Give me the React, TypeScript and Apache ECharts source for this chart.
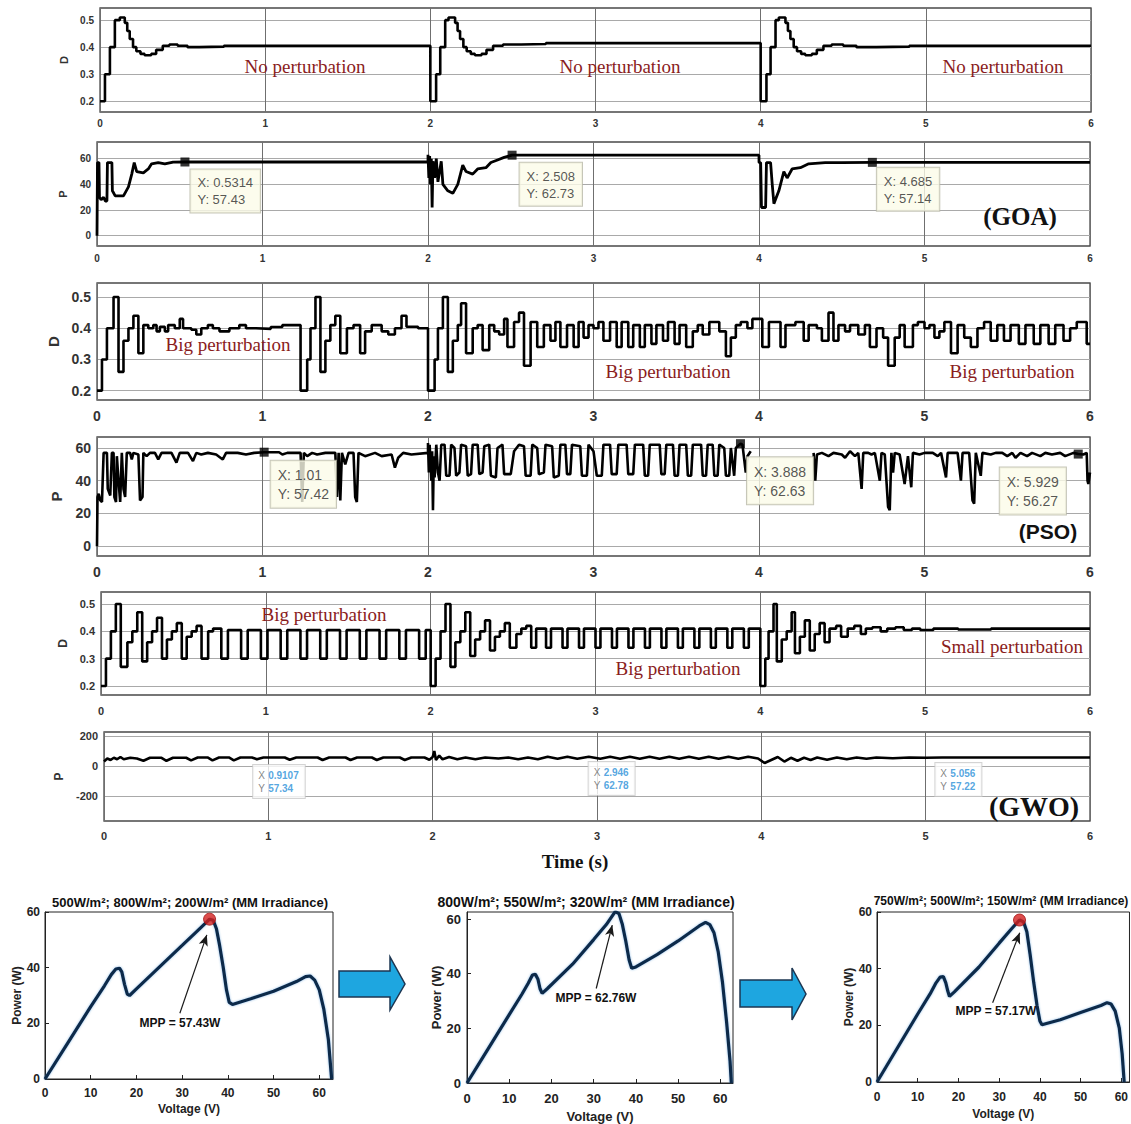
import React, { useEffect, useRef } from "react";
import * as echarts from "echarts";

// ---------- tick values ----------
const D_TICKS = [0.2, 0.3, 0.4, 0.5];
const P_TICKS = [0, 20, 40, 60];
const GWO_P_TICKS = [-200, 0, 200];
const PV_V_TICKS = [0, 10, 20, 30, 40, 50, 60];
const PV_P_TICKS = [0, 20, 40, 60];

// ---------- GOA ----------
const goaD = [
  [0, 0.2], [0.03, 0.3], [0.06, 0.4], [0.09, 0.5], [0.12, 0.51], [0.15, 0.49], [0.165, 0.46], [0.18, 0.43], [0.2, 0.4],
  [0.22, 0.385], [0.245, 0.375], [0.27, 0.37], [0.31, 0.375], [0.34, 0.39], [0.38, 0.405], [0.42, 0.41], [0.47, 0.405],
  [0.53, 0.4], [0.6, 0.402], [0.75, 0.405],
  [2.0, 0.2], [2.035, 0.3], [2.06, 0.4], [2.09, 0.5], [2.11, 0.51], [2.15, 0.49], [2.165, 0.46], [2.18, 0.43], [2.2, 0.4],
  [2.22, 0.385], [2.245, 0.375], [2.27, 0.37], [2.31, 0.375], [2.34, 0.39], [2.38, 0.405], [2.44, 0.41], [2.55, 0.412], [2.7, 0.415],
  [4.0, 0.2], [4.035, 0.3], [4.06, 0.4], [4.09, 0.5], [4.11, 0.51], [4.15, 0.49], [4.165, 0.46], [4.18, 0.43], [4.2, 0.4],
  [4.22, 0.385], [4.245, 0.375], [4.27, 0.37], [4.31, 0.375], [4.34, 0.39], [4.38, 0.405], [4.43, 0.41], [4.5, 0.405],
  [4.58, 0.4], [4.7, 0.402], [4.9, 0.405], [6, 0.405],
];
const goaP = [
  [0, 0], [0.003, 57], [0.012, 57], [0.015, 30], [0.025, 28], [0.04, 30], [0.05, 27], [0.06, 27], [0.063, 57], [0.09, 57],
  [0.093, 35], [0.11, 31], [0.16, 31], [0.19, 38], [0.21, 48], [0.225, 57], [0.24, 50], [0.28, 49], [0.31, 52], [0.33, 56],
  [0.37, 57], [0.41, 56], [0.46, 57.4], [0.5314, 57.43], [2.0, 57.43],
  [2.0, 63], [2.005, 45], [2.01, 62], [2.015, 40], [2.02, 60], [2.025, 22], [2.03, 58], [2.04, 45], [2.05, 60], [2.06, 42],
  [2.08, 58], [2.09, 40], [2.12, 35], [2.15, 33], [2.18, 40], [2.21, 55], [2.23, 50], [2.27, 48], [2.3, 52], [2.35, 53],
  [2.38, 57], [2.42, 59], [2.46, 61], [2.508, 62.73], [4.0, 62.73],
  [4.0, 57], [4.01, 57], [4.015, 22], [4.04, 22], [4.045, 57], [4.07, 57], [4.08, 40], [4.09, 25], [4.12, 35], [4.15, 50],
  [4.17, 45], [4.2, 52], [4.25, 53], [4.3, 56], [4.4, 57], [4.5, 57], [4.685, 57.14], [6, 57.14],
];
const goaTips = [[0.5314, 57.43], [2.508, 62.73], [4.685, 57.14]];

// ---------- PSO ----------
const psoD = [
  [0, 0.2], [0.03, 0.3], [0.06, 0.4], [0.1, 0.5], [0.13, 0.26], [0.16, 0.36], [0.19, 0.4], [0.22, 0.44], [0.25, 0.32],
  [0.28, 0.41], [0.31, 0.4], [0.34, 0.41], [0.36, 0.39], [0.38, 0.405], [0.41, 0.39], [0.43, 0.41], [0.47, 0.4], [0.5, 0.43],
  [0.52, 0.4], [0.57, 0.395], [0.6, 0.38], [0.63, 0.4], [0.67, 0.41], [0.7, 0.4], [0.74, 0.39], [0.8, 0.4], [0.86, 0.41],
  [0.9, 0.4], [0.96, 0.398], [1.05, 0.404], [1.12, 0.41],
  [1.23, 0.2], [1.27, 0.3], [1.29, 0.4], [1.32, 0.5], [1.35, 0.26], [1.38, 0.36], [1.41, 0.41], [1.44, 0.44], [1.47, 0.32],
  [1.51, 0.4], [1.55, 0.41], [1.59, 0.32], [1.62, 0.39], [1.66, 0.41], [1.72, 0.39], [1.76, 0.38], [1.8, 0.4], [1.84, 0.44],
  [1.87, 0.405], [1.94, 0.4],
  [2.0, 0.2], [2.04, 0.3], [2.06, 0.4], [2.09, 0.5], [2.12, 0.26], [2.15, 0.36], [2.18, 0.41], [2.2, 0.48], [2.23, 0.32],
  [2.27, 0.4], [2.3, 0.41], [2.33, 0.33], [2.37, 0.41], [2.4, 0.39], [2.43, 0.38], [2.46, 0.43], [2.48, 0.34], [2.52, 0.42],
  [2.55, 0.45], [2.58, 0.28], [2.62, 0.42], [2.66, 0.34], [2.7, 0.41], [2.74, 0.36], [2.77, 0.42], [2.8, 0.34], [2.84, 0.41],
  [2.88, 0.34], [2.91, 0.42], [2.94, 0.37], [2.97, 0.41], [3.0, 0.4], [3.03, 0.42], [3.06, 0.36], [3.1, 0.42], [3.14, 0.34],
  [3.17, 0.42], [3.21, 0.34], [3.24, 0.41], [3.28, 0.34], [3.31, 0.41], [3.35, 0.35], [3.38, 0.41], [3.42, 0.36], [3.45, 0.42],
  [3.49, 0.35], [3.52, 0.41], [3.56, 0.34], [3.6, 0.39], [3.63, 0.41], [3.66, 0.38], [3.7, 0.42], [3.76, 0.39], [3.8, 0.31],
  [3.83, 0.37], [3.86, 0.41], [3.89, 0.42], [3.93, 0.4], [3.96, 0.43],
  [4.02, 0.34], [4.06, 0.42], [4.13, 0.34], [4.16, 0.41], [4.22, 0.42], [4.27, 0.36], [4.3, 0.41], [4.35, 0.4], [4.38, 0.36],
  [4.42, 0.45], [4.45, 0.36], [4.48, 0.41], [4.52, 0.39], [4.55, 0.41], [4.6, 0.38], [4.64, 0.41], [4.67, 0.34], [4.71, 0.4],
  [4.75, 0.37], [4.78, 0.28], [4.82, 0.37], [4.85, 0.41], [4.88, 0.34], [4.93, 0.41], [4.96, 0.42],
  [5.0, 0.4], [5.03, 0.41], [5.06, 0.37], [5.09, 0.39], [5.12, 0.42], [5.16, 0.32], [5.2, 0.41], [5.24, 0.37], [5.28, 0.34],
  [5.32, 0.4], [5.36, 0.42], [5.4, 0.36], [5.44, 0.41], [5.48, 0.36], [5.52, 0.41], [5.57, 0.35], [5.61, 0.41], [5.66, 0.35],
  [5.7, 0.41], [5.75, 0.35], [5.79, 0.41], [5.84, 0.36], [5.88, 0.4], [5.92, 0.42], [5.98, 0.35], [6, 0.35],
];
const psoP = [
  [0, 0], [0.003, 30], [0.01, 32], [0.02, 28], [0.03, 27], [0.04, 57], [0.06, 57], [0.065, 35], [0.08, 31], [0.09, 57],
  [0.1, 57], [0.105, 30], [0.115, 27], [0.12, 55], [0.13, 40], [0.14, 27], [0.15, 57], [0.16, 35], [0.17, 30], [0.18, 57],
  [0.2, 57], [0.21, 53], [0.22, 57], [0.25, 56], [0.26, 28], [0.275, 30], [0.28, 57], [0.3, 55], [0.32, 57], [0.35, 57],
  [0.37, 53], [0.39, 57], [0.45, 57], [0.48, 51], [0.5, 57], [0.55, 57], [0.58, 52], [0.6, 57], [0.63, 56], [0.67, 57],
  [0.72, 56], [0.76, 53], [0.78, 57], [0.85, 57], [0.9, 56], [0.95, 57], [1.01, 57.42], [1.1, 57.4], [1.12, 56], [1.15, 57],
  [1.23, 57], [1.24, 27], [1.25, 57], [1.27, 55], [1.3, 57], [1.33, 56], [1.38, 57], [1.44, 57], [1.45, 30], [1.46, 57],
  [1.47, 28], [1.48, 57], [1.5, 50], [1.52, 57], [1.55, 57], [1.56, 30], [1.57, 27], [1.58, 57], [1.62, 55], [1.68, 57],
  [1.72, 55], [1.78, 56], [1.8, 48], [1.82, 54], [1.85, 57], [1.9, 56], [2.0, 57],
  [2.0, 63], [2.005, 45], [2.01, 62], [2.02, 40], [2.025, 58], [2.03, 22], [2.035, 55], [2.04, 42], [2.05, 62], [2.06, 45],
  [2.07, 40], [2.08, 62], [2.1, 62], [2.11, 43], [2.13, 43], [2.14, 62], [2.16, 60], [2.17, 43], [2.19, 45], [2.2, 62],
  [2.23, 61], [2.24, 43], [2.26, 44], [2.27, 62], [2.3, 62], [2.31, 44], [2.33, 45], [2.34, 61], [2.37, 62], [2.38, 43],
  [2.41, 42], [2.42, 60], [2.45, 62], [2.46, 44], [2.5, 44], [2.52, 58], [2.55, 62], [2.58, 61], [2.59, 43], [2.62, 43],
  [2.63, 62], [2.66, 60], [2.67, 44], [2.7, 45], [2.71, 62], [2.75, 61], [2.76, 42], [2.79, 43], [2.8, 62], [2.83, 62],
  [2.84, 44], [2.86, 44], [2.87, 62], [2.92, 61], [2.93, 43], [2.96, 43], [2.97, 62], [3.0, 58], [3.02, 43], [3.05, 43],
  [3.06, 62], [3.1, 62], [3.11, 44], [3.14, 44], [3.15, 62], [3.2, 62], [3.21, 44], [3.24, 44], [3.25, 62], [3.3, 62],
  [3.31, 43], [3.33, 43], [3.34, 62], [3.4, 62], [3.41, 44], [3.43, 44], [3.44, 62], [3.48, 62], [3.49, 43], [3.51, 43],
  [3.52, 62], [3.56, 62], [3.57, 43], [3.59, 43], [3.6, 62], [3.65, 62], [3.66, 43], [3.68, 43], [3.69, 62], [3.72, 62],
  [3.73, 43], [3.75, 43], [3.76, 62], [3.79, 60], [3.8, 43], [3.82, 43], [3.83, 60], [3.85, 43], [3.86, 60], [3.888, 62.63],
  [3.9, 62], [3.92, 45], [3.93, 55], [3.95, 58], [3.97, null],
  [4.33, 57], [4.34, 40], [4.35, 56], [4.38, 57], [4.42, 55], [4.45, 57], [4.5, 56], [4.52, 54], [4.55, 58], [4.58, 55],
  [4.6, 57], [4.62, 35], [4.63, 57], [4.66, 57], [4.68, 56], [4.7, 57], [4.73, 40], [4.74, 57], [4.76, 56], [4.78, 24],
  [4.79, 22], [4.8, 57], [4.81, 45], [4.82, 57], [4.85, 56], [4.88, 38], [4.9, 55], [4.92, 36], [4.93, 57], [4.97, 56],
  [5.0, 57], [5.05, 57], [5.08, 55], [5.1, 57], [5.13, 42], [5.14, 57], [5.2, 57], [5.22, 40], [5.23, 57], [5.27, 57],
  [5.29, 28], [5.3, 26], [5.31, 57], [5.34, 43], [5.35, 57], [5.4, 56], [5.43, 57], [5.47, 57], [5.5, 55], [5.53, 57],
  [5.55, 54], [5.58, 57], [5.62, 55], [5.65, 57], [5.7, 55], [5.73, 57], [5.77, 56], [5.82, 57], [5.85, 55], [5.9, 57],
  [5.929, 56.27], [5.96, 56], [5.98, 57], [5.985, 40], [5.99, 38], [6, 45],
];
const psoTips = [[1.01, 57.42], [3.888, 62.63], [5.929, 56.27]];

// ---------- GWO ----------
const gwoD = [
  [0, 0.2], [0.03, 0.3], [0.06, 0.4], [0.09, 0.5], [0.12, 0.27], [0.16, 0.36], [0.19, 0.4], [0.22, 0.47], [0.25, 0.29],
  [0.28, 0.36], [0.31, 0.4], [0.34, 0.45], [0.37, 0.3], [0.4, 0.37], [0.43, 0.4], [0.46, 0.43], [0.49, 0.3], [0.52, 0.38],
  [0.55, 0.4], [0.58, 0.42], [0.61, 0.3], [0.65, 0.4], [0.68, 0.41], [0.73, 0.3], [0.77, 0.405], [0.85, 0.3], [0.89, 0.405],
  [0.97, 0.3], [1.01, 0.405], [1.09, 0.3], [1.13, 0.405], [1.21, 0.3], [1.25, 0.405], [1.33, 0.3], [1.37, 0.405], [1.45, 0.3],
  [1.49, 0.405], [1.57, 0.3], [1.61, 0.405], [1.69, 0.3], [1.73, 0.405], [1.81, 0.3], [1.85, 0.405], [1.93, 0.3], [1.97, 0.405],
  [2.0, 0.2], [2.03, 0.3], [2.06, 0.4], [2.09, 0.5], [2.12, 0.27], [2.15, 0.36], [2.18, 0.4], [2.21, 0.47], [2.24, 0.31],
  [2.27, 0.37], [2.3, 0.4], [2.33, 0.44], [2.36, 0.33], [2.39, 0.38], [2.42, 0.4], [2.45, 0.43], [2.48, 0.34], [2.52, 0.39],
  [2.55, 0.41], [2.58, 0.42], [2.61, 0.34], [2.64, 0.41], [2.7, 0.34], [2.73, 0.41], [2.8, 0.34], [2.83, 0.41], [2.9, 0.34],
  [2.93, 0.41], [3.0, 0.34], [3.03, 0.41], [3.1, 0.34], [3.13, 0.41], [3.2, 0.34], [3.23, 0.41], [3.3, 0.34], [3.33, 0.41],
  [3.4, 0.34], [3.43, 0.41], [3.5, 0.34], [3.53, 0.41], [3.6, 0.34], [3.63, 0.41], [3.7, 0.34], [3.73, 0.41], [3.8, 0.34],
  [3.83, 0.41], [3.9, 0.34], [3.93, 0.41],
  [4.0, 0.2], [4.03, 0.3], [4.05, 0.4], [4.08, 0.5], [4.1, 0.29], [4.13, 0.37], [4.16, 0.4], [4.19, 0.47], [4.21, 0.32],
  [4.24, 0.38], [4.27, 0.44], [4.3, 0.33], [4.33, 0.39], [4.36, 0.43], [4.39, 0.36], [4.42, 0.41], [4.46, 0.42], [4.49, 0.38],
  [4.53, 0.41], [4.57, 0.42], [4.61, 0.39], [4.64, 0.41], [4.68, 0.415], [4.73, 0.4], [4.77, 0.41], [4.82, 0.415],
  [4.87, 0.405], [4.92, 0.41], [4.97, 0.405], [5.05, 0.41], [5.2, 0.407], [5.4, 0.41], [6, 0.41],
];
const gwoP = [
  [0, 30], [0.02, 50], [0.04, 40], [0.06, 55], [0.08, 45], [0.1, 60], [0.12, 45], [0.16, 55], [0.2, 50], [0.24, 35],
  [0.28, 55], [0.35, 55], [0.38, 35], [0.42, 55], [0.5, 55], [0.53, 38], [0.57, 57], [0.63, 57], [0.66, 38], [0.7, 57],
  [0.76, 57], [0.79, 38], [0.83, 57], [0.9, 57], [0.93, 45], [0.97, 57], [1.1, 57], [1.13, 42], [1.17, 57], [1.3, 57],
  [1.33, 40], [1.37, 57], [1.47, 57], [1.5, 40], [1.54, 57], [1.63, 57], [1.66, 40], [1.7, 57], [1.8, 57], [1.83, 40],
  [1.87, 57], [1.95, 57], [1.98, 42], [2.0, 60], [2.01, 100], [2.02, 40], [2.04, 70], [2.06, 45], [2.1, 60], [2.15, 45],
  [2.2, 57], [2.26, 45], [2.32, 57], [2.4, 50], [2.46, 57], [2.52, 45], [2.58, 57], [2.64, 45], [2.7, 62], [2.76, 48],
  [2.82, 62], [2.88, 48], [2.95, 62], [3.02, 48], [3.08, 62], [3.14, 48], [3.2, 62], [3.26, 48], [3.32, 62], [3.38, 48],
  [3.44, 62], [3.5, 48], [3.56, 62], [3.62, 48], [3.68, 62], [3.74, 48], [3.8, 62], [3.86, 48], [3.92, 62], [3.98, 50],
  [4.02, 20], [4.06, 40], [4.1, 60], [4.14, 30], [4.18, 55], [4.22, 35], [4.26, 55], [4.3, 40], [4.34, 57], [4.4, 42],
  [4.46, 57], [4.52, 45], [4.58, 57], [4.64, 48], [4.7, 57], [4.8, 52], [4.9, 57], [5.0, 55], [5.1, 57], [6, 57.2],
];
const gwoTips = [[0.9107, 57.34], [2.946, 62.78], [5.056, 57.22]];

// ---------- P-V curves ----------
const pv1 = [
  [0, 0], [5, 13], [10, 26], [13, 33.5], [14.5, 37.5], [15.5, 39.5], [16.3, 39.8], [16.8, 38.5], [17.4, 34], [18, 30.5],
  [18.5, 30], [20, 32.4], [25, 40.2], [30, 48], [33, 52.7], [35, 55.8], [36, 57.43], [36.8, 57], [37.5, 54], [38.2, 48],
  [39, 40], [39.7, 32], [40.3, 27.5], [41, 26.8], [45, 28.8], [50, 31.5], [55, 35], [57, 36.8], [58, 37], [59, 35.5],
  [60, 32], [61, 25], [62, 14], [62.7, 0],
];
const pv2 = [
  [0, 0], [5, 12.5], [10, 25], [13, 32.5], [14.5, 36.5], [15.5, 39.5], [16.2, 39.8], [16.8, 38], [17.3, 34.5], [17.8, 32.8],
  [19, 34.5], [25, 43.5], [30, 52.5], [33, 58], [35.1, 62.76], [36, 62], [36.8, 58], [37.6, 52], [38.4, 45], [39, 42],
  [40, 42.5], [45, 47], [50, 52], [55, 57.5], [56.5, 58.8], [57.5, 58], [58.5, 55], [59.5, 48], [60.5, 37], [61.5, 22],
  [62.3, 8], [62.6, 0],
];
const pv3 = [
  [0, 0], [5, 12], [10, 24], [13, 31], [14.5, 35], [15.5, 37], [16.3, 37.2], [16.9, 35], [17.4, 32], [17.8, 30.2],
  [19, 31.8], [25, 40.5], [30, 49], [33, 54], [35, 57.17], [36, 56.5], [36.8, 53], [37.6, 45], [38.5, 35], [39.3, 27],
  [40, 21.5], [40.5, 20.2], [45, 22], [50, 24.5], [55, 27], [56.5, 28], [57.5, 27.5], [58.5, 25], [59.5, 19], [60.2, 10],
  [60.7, 0],
];
const pvCurves = [pv1, pv2, pv3];
const mppPoints = [[36, 57.43], [35.1, 62.76], [35, 57.17]];
const mppLabels = ["MPP = 57.43W", "MPP = 62.76W", "MPP = 57.17W"];
const pvTitles = [
  "500W/m²; 800W/m²; 200W/m² (MM Irradiance)",
  "800W/m²; 550W/m²; 320W/m² (MM Irradiance)",
  "750W/m²; 500W/m²; 150W/m² (MM Irradiance)",
];
// annotation arrow ends (data units: V, W)
const mppArrows = [
  [[29.5, 23.6], [35.4, 51.8]],
  [[30.6, 34.6], [34.4, 57.8]],
  [[28.4, 28.0], [35.05, 52.7]],
];

const SERIF = "'Liberation Serif','Times New Roman',serif";
const SANS = "'Liberation Sans',Arial,Helvetica,sans-serif";
const RED_TXT = "#8a1c1c";

function buildOption() {
  const timePanels = [
    { g: [100, 8, 991, 104], y: [0.16, 0.545], ticks: D_TICKS, fs: 10, xm: 6, ym: 6, name: "D", ng: 30 },
    { g: [97, 142, 993, 104], y: [-8, 73], ticks: P_TICKS, fs: 10, xm: 7, ym: 6, name: "P", ng: 28 },
    { g: [97, 283, 993, 117], y: [0.17, 0.545], ticks: D_TICKS, fs: 14, xm: 9, ym: 6, name: "D", ng: 33 },
    { g: [97, 437, 993, 119], y: [-6, 66.7], ticks: P_TICKS, fs: 14, xm: 9, ym: 6, name: "P", ng: 33 },
    { g: [101, 592, 989, 103], y: [0.167, 0.544], ticks: D_TICKS, fs: 11, xm: 10, ym: 6, name: "D", ng: 27 },
    { g: [104, 732, 986, 89], y: [-367, 227], ticks: GWO_P_TICKS, fs: 11, xm: 9, ym: 6, name: "P", ng: 29 },
  ];
  const pvPanels = [
    { g: [45, 912, 288, 167], x: [0, 63], y: [0, 60], fs: 12, xm: 8, ym: 5, xng: 24, yng: 22 },
    { g: [467, 912, 266, 171], x: [0, 63], y: [0, 62.6], fs: 13, xm: 9, ym: 6, xng: 27, yng: 24 },
    { g: [877, 912, 253, 170], x: [0, 62], y: [0, 60], fs: 12, xm: 9, ym: 5, xng: 26, yng: 16 },
  ];

  const grid: any[] = [];
  const xAxis: any[] = [];
  const yAxis: any[] = [];

  timePanels.forEach((p, i) => {
    grid.push({
      left: p.g[0], top: p.g[1], width: p.g[2], height: p.g[3],
      show: true, borderColor: "#4a4a4a", borderWidth: 1.3, backgroundColor: "#fff",
    });
    xAxis.push({
      gridIndex: i, type: "value", min: 0, max: 6, interval: 1,
      axisLine: { show: false }, axisTick: { show: false },
      splitLine: { show: true, lineStyle: { color: "#6f6f6f", width: 1 } },
      axisLabel: { fontSize: p.fs, fontWeight: "bold", color: "#333", margin: p.xm, fontFamily: SANS },
    });
    yAxis.push({
      gridIndex: i, type: "value", min: p.y[0], max: p.y[1],
      axisLine: { show: false },
      axisTick: { show: false, customValues: p.ticks },
      splitLine: { show: true, lineStyle: { color: "#a9a9a9", width: 1 } },
      axisLabel: { customValues: p.ticks, fontSize: p.fs, fontWeight: "bold", color: "#333", margin: p.ym, fontFamily: SANS },
      name: p.name, nameLocation: "middle", nameGap: p.ng, nameRotate: 90,
      nameTextStyle: { fontSize: p.fs + 1, fontWeight: "bold", color: "#333", fontFamily: SANS },
    });
  });

  pvPanels.forEach((p, k) => {
    const i = 6 + k;
    grid.push({
      left: p.g[0], top: p.g[1], width: p.g[2], height: p.g[3],
      show: true, borderColor: "#222", borderWidth: 1, backgroundColor: "#fff",
    });
    xAxis.push({
      gridIndex: i, type: "value", min: p.x[0], max: p.x[1],
      axisLine: { show: true, lineStyle: { color: "#222" } },
      axisTick: { show: true, inside: true, length: 4, customValues: PV_V_TICKS, lineStyle: { color: "#222" } },
      splitLine: { show: false },
      axisLabel: { customValues: PV_V_TICKS, fontSize: p.fs, fontWeight: "bold", color: "#222", margin: p.xm, fontFamily: SANS },
      name: "Voltage (V)", nameLocation: "middle", nameGap: p.xng,
      nameTextStyle: { fontSize: p.fs, fontWeight: "bold", color: "#222", fontFamily: SANS },
    });
    yAxis.push({
      gridIndex: i, type: "value", min: p.y[0], max: p.y[1],
      axisLine: { show: true, lineStyle: { color: "#222" } },
      axisTick: { show: true, inside: true, length: 4, customValues: PV_P_TICKS, lineStyle: { color: "#222" } },
      splitLine: { show: false },
      axisLabel: { customValues: PV_P_TICKS, fontSize: p.fs, fontWeight: "bold", color: "#222", margin: p.ym, fontFamily: SANS },
      name: "Power (W)", nameLocation: "middle", nameGap: p.yng, nameRotate: 90,
      nameTextStyle: { fontSize: p.fs, fontWeight: "bold", color: "#222", fontFamily: SANS },
    });
  });

  const stepLine = (data: any[], i: number) => ({
    type: "line", xAxisIndex: i, yAxisIndex: i, data, step: "end", showSymbol: false, symbol: "none",
    lineStyle: { color: "#000", width: 2.6 }, z: 3, silent: true,
  });
  const plainLine = (data: any[], i: number, w: number) => ({
    type: "line", xAxisIndex: i, yAxisIndex: i, data, showSymbol: false, symbol: "none", connectNulls: false,
    lineStyle: { color: "#000", width: w }, z: 3, silent: true,
  });

  const tipFmt = (p: any) => `X: ${p.value[0]}\nY: ${p.value[1]}`;
  const GOA_TIP_POS = [[10, 12], [12, 12], [9, 10]];
  const PSO_TIP_POS = [[11, 13], [11, 18], [-74, 18]];
  const GWO_TIP_POS = [[0, 8], [1, 6], [1, 6]];

  const tipSeries = (tips: number[][], i: number, pos: number[][], fs: number, lh: number, pad: number[]) => ({
    type: "scatter", xAxisIndex: i, yAxisIndex: i, symbol: "rect", symbolSize: 9, z: 6, silent: true,
    itemStyle: { color: "#000" },
    data: tips.map((v, k) => ({ value: v, label: { position: pos[k] } })),
    label: {
      show: true, formatter: tipFmt, backgroundColor: "#fbfbe8", borderColor: "#b8b8a6", borderWidth: 1,
      padding: pad, fontSize: fs, lineHeight: lh, color: "#2b2b2b", fontFamily: SANS, align: "left",
    },
  });

  const series: any[] = [
    stepLine(goaD, 0),
    plainLine(goaP, 1, 2.8),
    tipSeries(goaTips, 1, GOA_TIP_POS, 13, 17, [5, 7, 4, 7]),
    stepLine(psoD, 2),
    plainLine(psoP, 3, 2.6),
    tipSeries(psoTips, 3, PSO_TIP_POS, 14, 19, [5, 7, 4, 7]),
    stepLine(gwoD, 4),
    plainLine(gwoP, 5, 2.6),
    {
      type: "scatter", xAxisIndex: 5, yAxisIndex: 5, symbol: "rect", symbolSize: 1, z: 6, silent: true,
      itemStyle: { color: "rgba(0,0,0,0)" },
      data: gwoTips.map((v, k) => ({ value: v, label: { position: GWO_TIP_POS[k] } })),
      label: {
        show: true,
        formatter: (p: any) => `{k|X} {v|${p.value[0]}}\n{k|Y} {v|${p.value[1]}}`,
        backgroundColor: "#fff", borderColor: "#c9c9c9", borderWidth: 1, padding: [4, 6, 3, 5],
        fontFamily: SANS,
        rich: {
          k: { fontSize: 10, color: "#666", lineHeight: 13, fontFamily: SANS },
          v: { fontSize: 10, color: "#2a8fd8", fontWeight: "bold", lineHeight: 13, fontFamily: SANS },
        },
      },
    },
  ];

  pvCurves.forEach((c, k) => {
    const i = 6 + k;
    series.push({
      type: "line", xAxisIndex: i, yAxisIndex: i, data: c, showSymbol: false, symbol: "none", silent: true,
      lineStyle: { color: "#0f2a4a", width: 3.2, shadowColor: "rgba(40,120,200,0.5)", shadowBlur: 2 },
      z: 3,
      markLine: {
        silent: true, symbol: ["none", "arrow"], symbolSize: [7, 11],
        lineStyle: { color: "#1a1a1a", width: 1.2, type: "solid" },
        label: { show: false },
        data: [[{ coord: mppArrows[k][0] }, { coord: mppArrows[k][1] }]],
      },
    });
    series.push({
      type: "scatter", xAxisIndex: i, yAxisIndex: i, data: [mppPoints[k]], symbolSize: 12, silent: true, z: 5,
      itemStyle: { color: "#d3201f", borderColor: "#a01010", borderWidth: 1 },
    });
  });

  const txt = (text: string, x: number, y: number, font: string, fill: string) => ({
    type: "text", x, y, z: 50,
    style: { text, font, fill, align: "center", verticalAlign: "middle" },
  });
  const annFont = `19px ${SERIF}`;
  const graphic: any[] = [
    txt("No perturbation", 305, 66, annFont, RED_TXT),
    txt("No perturbation", 620, 66, annFont, RED_TXT),
    txt("No perturbation", 1003, 66, annFont, RED_TXT),
    txt("Big perturbation", 228, 344, annFont, RED_TXT),
    txt("Big perturbation", 668, 371, annFont, RED_TXT),
    txt("Big perturbation", 1012, 371, annFont, RED_TXT),
    txt("Big perturbation", 324, 614, annFont, RED_TXT),
    txt("Big perturbation", 678, 668, annFont, RED_TXT),
    txt("Small perturbation", 1012, 646, annFont, RED_TXT),
    txt("(GOA)", 1020, 216, `bold 25px ${SERIF}`, "#111"),
    txt("(PSO)", 1048, 531, `bold 21px ${SANS}`, "#111"),
    txt("(GWO)", 1034, 806, `bold 28px ${SERIF}`, "#111"),
    txt("Time (s)", 575, 861, `bold 19px ${SERIF}`, "#111"),
    txt(pvTitles[0], 190, 902, `bold 13px ${SANS}`, "#111"),
    txt(pvTitles[1], 586, 902, `bold 14px ${SANS}`, "#111"),
    txt(pvTitles[2], 1001, 901, `bold 12px ${SANS}`, "#111"),
    txt(mppLabels[0], 180, 1023, `bold 12px ${SANS}`, "#111"),
    txt(mppLabels[1], 596, 998, `bold 12px ${SANS}`, "#111"),
    txt(mppLabels[2], 996, 1011, `bold 12px ${SANS}`, "#111"),
    {
      type: "polygon", z: 50,
      shape: { points: [[339, 971], [390, 971], [390, 957], [405, 984], [390, 1010], [390, 997], [339, 997]] },
      style: { fill: "#1ea6e0", stroke: "#1c3652", lineWidth: 1.5 },
    },
    {
      type: "polygon", z: 50,
      shape: { points: [[740, 980], [792, 980], [792, 968], [806, 994], [792, 1020], [792, 1007], [740, 1007]] },
      style: { fill: "#1ea6e0", stroke: "#1c3652", lineWidth: 1.5 },
    },
  ];

  return {
    animation: false,
    backgroundColor: "#fff",
    grid, xAxis, yAxis, series, graphic,
  };
}

export default function App() {
  const ref = useRef<HTMLDivElement>(null);
  useEffect(() => {
    if (!ref.current) return;
    const chart = echarts.init(ref.current, undefined, { renderer: "svg", width: 1131, height: 1124 });
    chart.setOption(buildOption() as any);
    return () => chart.dispose();
  }, []);
  return (
    <div
      ref={ref}
      style={{ position: "absolute", left: 0, top: 0, width: 1131, height: 1124, background: "#fff" }}
    />
  );
}
